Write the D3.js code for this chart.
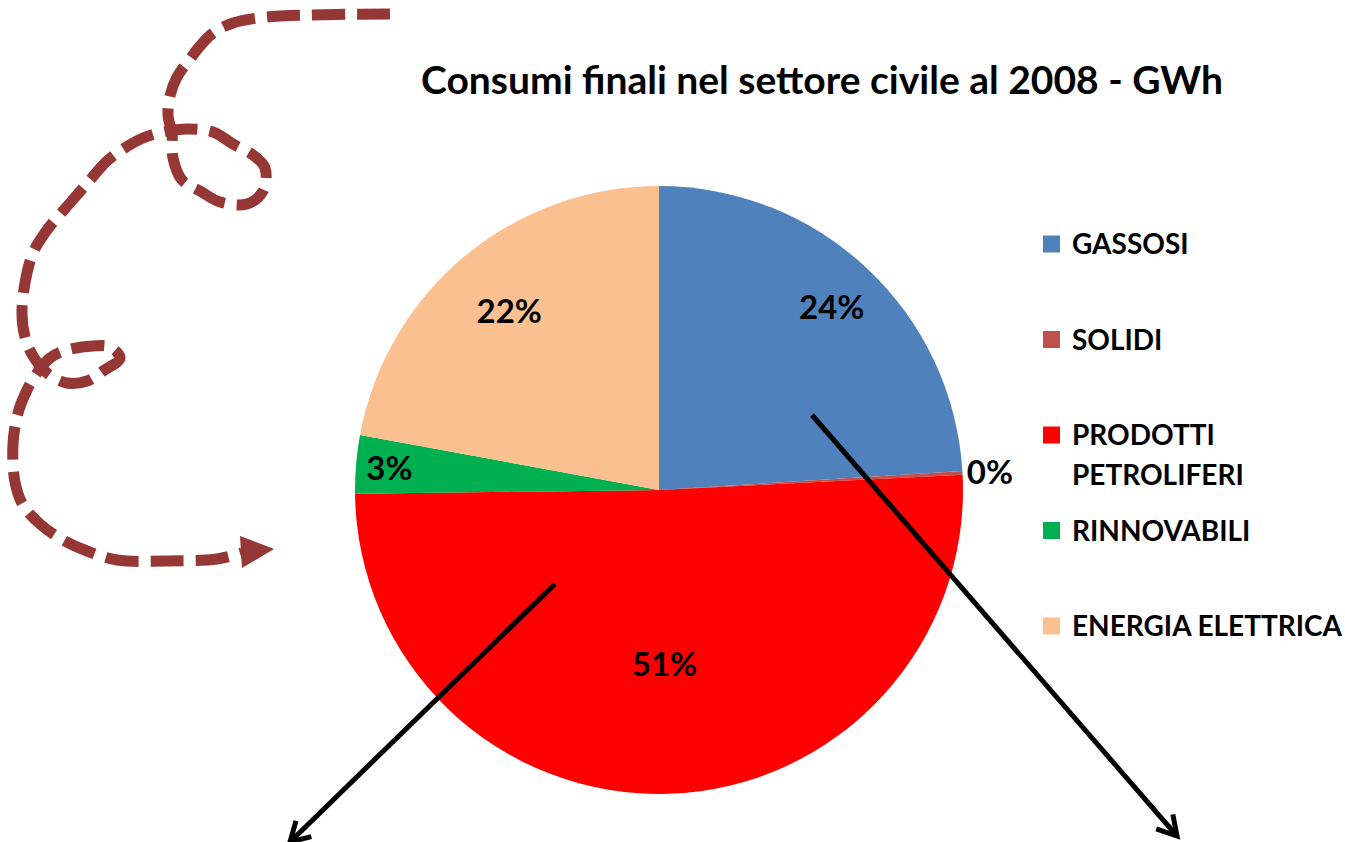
<!DOCTYPE html>
<html>
<head>
<meta charset="utf-8">
<script src="https://cdn.jsdelivr.net/npm/d3@7"></script>
<style>
  html, body { margin: 0; padding: 0; background: #fff; }
  svg { display: block; }
  text { font-family: Lato, 'Open Sans', sans-serif; font-weight: 700; fill: #000; }
</style>
</head>
<body>
<svg id="chart" width="1345" height="842"></svg>
<script>
// dati (percentuali)
const categories = ['GASSOSI', 'SOLIDI', 'PRODOTTI PETROLIFERI', 'RINNOVABILI', 'ENERGIA ELETTRICA']
const values = [24.0, 0.2, 50.6, 3.1, 22.1]
const colors = ['#4F81BD', '#C0504D', '#FF0000', '#00B050', '#FAC090']
const legendLines = [['GASSOSI'], ['SOLIDI'], ['PRODOTTI', 'PETROLIFERI'], ['RINNOVABILI'], ['ENERGIA ELETTRICA']]
const title = 'Consumi finali nel settore civile al 2008 - GWh'

// freccia tratteggiata disegnata a mano (decorazione)
const curlyPoints = [
  [390, 14], [267, 17], [233, 23], [213, 33], [200, 46], [190, 59], [177, 77], [170, 96],
  [168, 115], [172, 134], [173, 158], [182, 180], [200, 191], [220, 202], [247, 204],
  [263, 191], [265, 168], [253, 155], [233, 144], [213, 132], [187, 129], [163, 132],
  [143, 138], [123, 149], [107, 161], [90, 180], [70, 203], [47, 230], [33, 253],
  [25, 283], [22, 314], [25, 337], [33, 356], [47, 373], [67, 383], [87, 381],
  [103, 371], [120, 358], [110, 347], [93, 346], [67, 350], [50, 358], [37, 373],
  [27, 390], [18, 413], [13, 444], [15, 482], [23, 505], [40, 524], [63, 540],
  [87, 551], [117, 560], [167, 561], [217, 559], [242, 553]
]
const curlyHead = [[240, 536], [274, 549], [242, 568]]

// frecce nere
const arrows = [
  { from: [555, 584], to: [290, 842] },
  { from: [812, 415], to: [1177, 836] }
]

const svg = d3.select('#chart')
svg.append('rect').attr('width', 1345).attr('height', 842).attr('fill', '#fff')

const cx = 659
const cy = 490
const radius = 304
// raggio delle etichette (frazione del raggio), come le posiziona Excel
const labelR = [0.83, 1.09, 0.57, 0.89, 0.77]

const pie = d3.pie().sort(null).value(d => d)
const arc = d3.arc().innerRadius(0).outerRadius(radius)
const arcs = pie(values)

const g = svg.append('g').attr('transform', `translate(${cx},${cy})`)
g.selectAll('path.slice')
  .data(arcs)
  .enter().append('path')
  .attr('class', 'slice')
  .attr('d', arc)
  .attr('fill', (d, i) => colors[i])

const total = d3.sum(values)
g.selectAll('text.pct')
  .data(arcs)
  .enter().append('text')
  .attr('class', 'pct')
  .attr('transform', (d, i) => {
    const a = (d.startAngle + d.endAngle) / 2
    const r = radius * labelR[i]
    return `translate(${r * Math.sin(a)},${-r * Math.cos(a)})`
  })
  .attr('text-anchor', 'middle')
  .attr('dy', '0.4em')
  .attr('font-size', 33)
  .text(d => `${Math.round(d.value / total * 100)}%`)

// titolo
svg.append('text')
  .attr('x', 822)
  .attr('y', 94)
  .attr('text-anchor', 'middle')
  .attr('font-size', 39)
  .text(title)

// legenda
const legendY = d3.scalePoint().domain(categories).range([244, 626])
const legend = svg.append('g').selectAll('g')
  .data(categories)
  .enter().append('g')
  .attr('transform', d => `translate(1043,${legendY(d)})`)
legend.append('rect')
  .attr('x', 0)
  .attr('y', -8.5)
  .attr('width', 17)
  .attr('height', 17)
  .attr('fill', (d, i) => colors[i])
legend.append('text')
  .attr('font-size', 28)
  .each(function (d, i) {
    const t = d3.select(this)
    legendLines[i].forEach((line, j) => {
      t.append('tspan')
        .attr('x', 29)
        .attr('y', j * 40)
        .attr('dy', '0.36em')
        .text(line)
    })
  })

// curva tratteggiata
const curlyLine = d3.line().curve(d3.curveCatmullRom.alpha(0.5))
svg.append('path')
  .attr('d', curlyLine(curlyPoints))
  .attr('fill', 'none')
  .attr('stroke', '#953735')
  .attr('stroke-width', 11)
  .attr('stroke-dasharray', '33 12')
svg.append('path')
  .attr('d', d3.line()(curlyHead) + 'Z')
  .attr('fill', '#953735')

// frecce nere con punta aperta
arrows.forEach(a => {
  const [x1, y1] = a.from
  const [x2, y2] = a.to
  const ang = Math.atan2(y2 - y1, x2 - x1)
  const len = 22
  const spread = Math.PI / 6
  svg.append('line')
    .attr('x1', x1).attr('y1', y1).attr('x2', x2).attr('y2', y2)
    .attr('stroke', '#000').attr('stroke-width', 5)
  svg.append('path')
    .attr('d', d3.line()([
      [x2 - len * Math.cos(ang - spread), y2 - len * Math.sin(ang - spread)],
      [x2, y2],
      [x2 - len * Math.cos(ang + spread), y2 - len * Math.sin(ang + spread)]
    ]))
    .attr('fill', 'none')
    .attr('stroke', '#000')
    .attr('stroke-width', 5)
    .attr('stroke-linejoin', 'miter')
})
</script>
</body>
</html>
